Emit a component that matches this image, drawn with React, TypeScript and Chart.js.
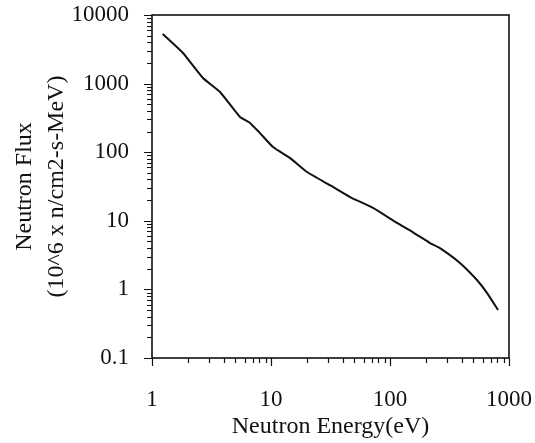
import React, { useEffect, useRef } from "react";
import { Chart, registerables } from "chart.js";

Chart.register(...registerables);

// Data (log-log)
const energy = [1.23, 1.82, 2.68, 3.73, 5.49, 6.66, 8.08, 10.4, 14.5, 20.1, 31.3, 46.1, 72, 114.5, 156, 217, 263, 387, 538, 653, 809];
const flux = [5290, 2790, 1208, 755, 326, 267, 190, 119, 82, 51.4, 33, 22.2, 15.4, 9.3, 6.8, 4.74, 4.0, 2.43, 1.37, 0.89, 0.5];

const xMin = 1;
const xMax = 1000;
const yMin = 0.1;
const yMax = 10000;

const xTitle = "Neutron Energy(eV)";
const yTitle = ["Neutron Flux", "(10^6 x n/cm2-s-MeV)"];

const FONT = "'Liberation Serif', 'Times New Roman', serif";
const INK = "#111";

const isDecade = (v: number) => {
  const l = Math.log10(v);
  return Math.abs(l - Math.round(l)) < 1e-6;
};

const decadeLabel = (v: number) => (isDecade(v) ? String(+v.toPrecision(6)) : "");

const tickValues = (min: number, max: number) => {
  const out: number[] = [];
  const lo = Math.round(Math.log10(min));
  const hi = Math.round(Math.log10(max));
  for (let d = lo; d <= hi; d++) {
    for (let m = 1; m <= 9; m++) {
      const v = m * Math.pow(10, d);
      if (v <= max * 1.0000001) out.push(v);
    }
  }
  return out;
};

const zeroPad = (s: any) => {
  s.paddingTop = 0;
  s.paddingBottom = 0;
  s.paddingLeft = 0;
  s.paddingRight = 0;
};

const frameAndTicks = {
  id: "frameAndTicks",
  afterDraw(chart: any) {
    const { ctx, chartArea: a, scales } = chart;
    const x = scales.x;
    const y = scales.y;
    ctx.save();
    ctx.strokeStyle = INK;
    ctx.lineWidth = 1.6;
    ctx.strokeRect(a.left, a.top, a.right - a.left, a.bottom - a.top);
    ctx.lineWidth = 1.2;
    ctx.beginPath();
    tickValues(xMin, xMax).forEach((v) => {
      const px = Math.round(x.getPixelForValue(v)) + 0.5;
      const len = isDecade(v) ? 8 : 5;
      ctx.moveTo(px, a.bottom);
      ctx.lineTo(px, a.bottom + len);
    });
    tickValues(yMin, yMax).forEach((v) => {
      const py = Math.round(y.getPixelForValue(v)) + 0.5;
      const len = isDecade(v) ? 8 : 5;
      ctx.moveTo(a.left, py);
      ctx.lineTo(a.left - len, py);
    });
    ctx.stroke();
    ctx.restore();
  },
};

export default function App() {
  const canvasRef = useRef<HTMLCanvasElement | null>(null);

  useEffect(() => {
    if (!canvasRef.current) return;
    const chart = new Chart(canvasRef.current, {
      type: "line",
      data: {
        datasets: [
          {
            data: energy.map((e, i) => ({ x: e, y: flux[i] })),
            borderColor: INK,
            borderWidth: 2,
            pointRadius: 0,
            tension: 0.15,
            fill: false,
          },
        ],
      },
      options: {
        responsive: false,
        animation: false,
        devicePixelRatio: 1,
        layout: { padding: { top: 15, right: 26, bottom: 0, left: 0 } },
        plugins: { legend: { display: false }, tooltip: { enabled: false } },
        scales: {
          x: {
            type: "logarithmic",
            min: xMin,
            max: xMax,
            afterFit: (s: any) => {
              s.height = 85;
              zeroPad(s);
            },
            grid: { display: false, drawTicks: false },
            border: { display: false },
            ticks: {
              autoSkip: false,
              maxRotation: 0,
              padding: 28,
              color: INK,
              font: { family: FONT, size: 23 },
              callback: (v: any) => decadeLabel(Number(v)),
            },
            title: {
              display: true,
              text: xTitle,
              color: INK,
              font: { family: FONT, size: 24 },
              padding: { top: 0, bottom: 2 },
            },
          },
          y: {
            type: "logarithmic",
            min: yMin,
            max: yMax,
            afterFit: (s: any) => {
              s.width = 152;
              zeroPad(s);
            },
            grid: { display: false, drawTicks: false },
            border: { display: false },
            ticks: {
              autoSkip: false,
              padding: 23,
              color: INK,
              font: { family: FONT, size: 23 },
              callback: (v: any) => decadeLabel(Number(v)),
            },
            title: {
              display: true,
              text: yTitle,
              color: INK,
              font: { family: FONT, size: 24, lineHeight: 1.3 },
              padding: { top: 9.5, bottom: 0 },
            },
          },
        },
      },
      plugins: [frameAndTicks],
    } as any);
    return () => chart.destroy();
  }, []);

  return (
    <div style={{ position: "fixed", left: 0, top: 0, width: 535, height: 443, background: "#fff" }}>
      <canvas ref={canvasRef} width={535} height={443} style={{ display: "block" }} />
    </div>
  );
}
